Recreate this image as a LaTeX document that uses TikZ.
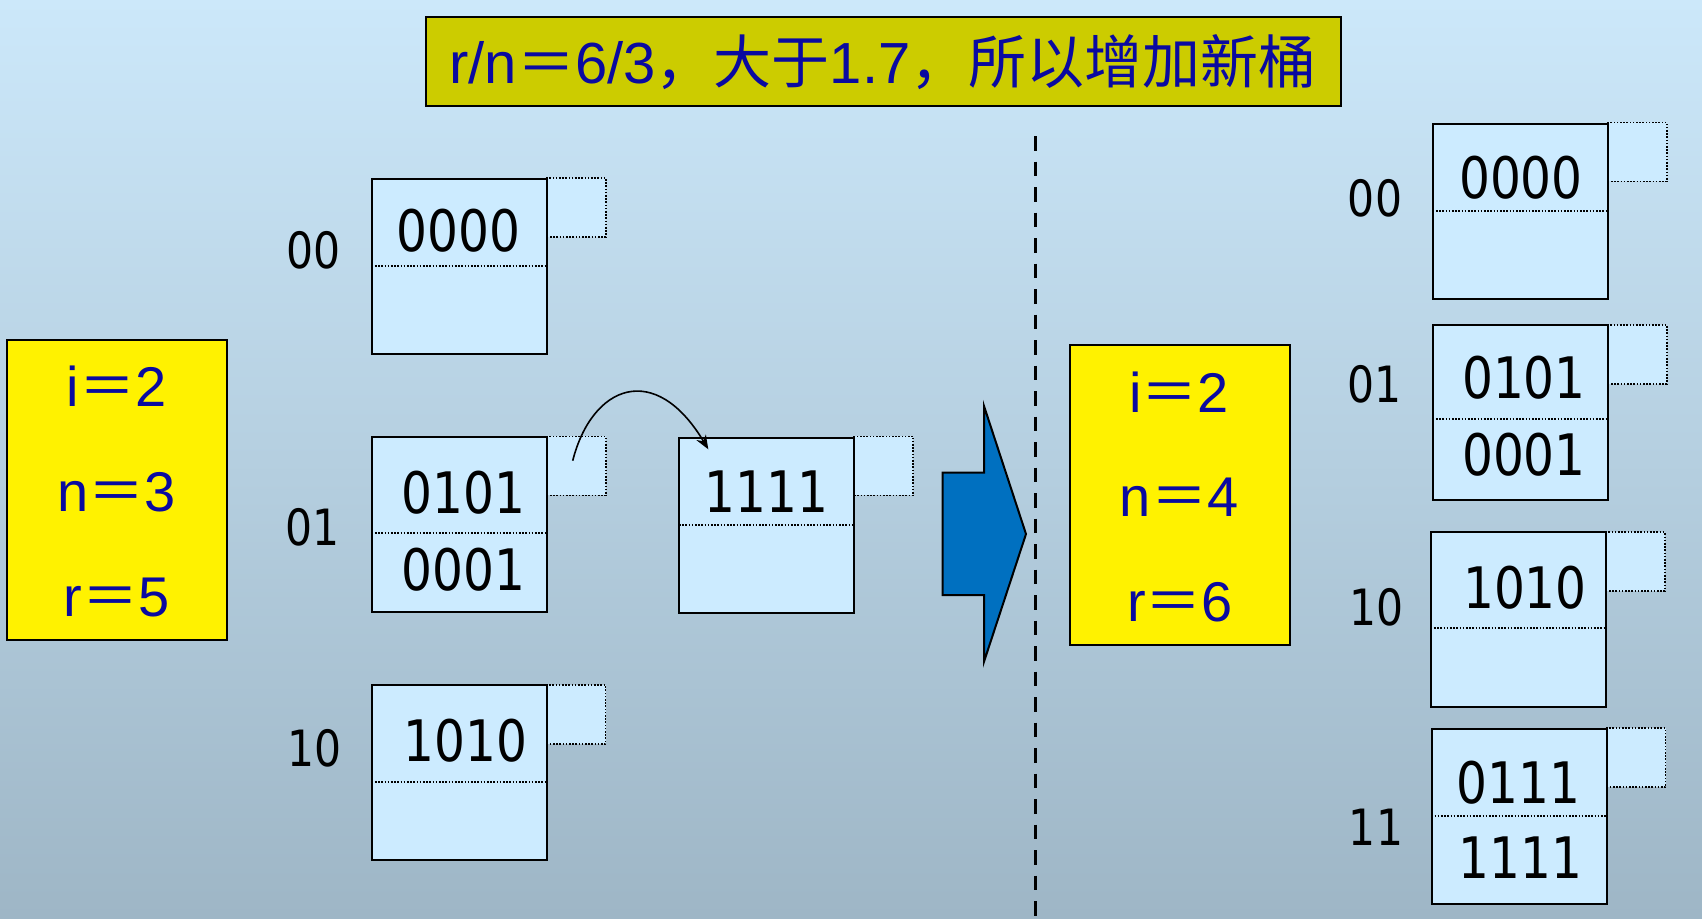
\documentclass[tikz,border=0pt]{standalone}
\usepackage{fontspec}
\setmainfont{Liberation Sans}
\newfontfamily\cjk{Noto Sans CJK SC}
\newfontfamily\digitfont[FakeStretch=0.85]{DejaVu Sans}
\usetikzlibrary{arrows.meta}
\definecolor{bgtop}{RGB}{204,232,250}
\definecolor{bgbot}{RGB}{158,182,198}
\definecolor{boxblue}{RGB}{204,235,255}
\definecolor{titlefill}{RGB}{204,204,0}
\definecolor{txtblue}{RGB}{10,10,160}
\definecolor{arrowblue}{RGB}{0,112,192}
\tikzset{
  bucket/.style={draw=black, fill=boxblue, line width=1pt, minimum width=87.5pt, minimum height=87.5pt, inner sep=0pt},
  sidebox/.style={draw=black, fill=boxblue, line width=0.9pt, dash pattern=on 0.8pt off 0.8pt, minimum width=29.5pt, minimum height=29.5pt, inner sep=0pt},
  divline/.style={draw=black, line width=0.9pt, dash pattern=on 0.8pt off 0.8pt},
  digits/.style={inner sep=0pt, anchor=base, font=\digitfont\fontsize{28.6pt}{34pt}\selectfont},
  lbl/.style={inner sep=0pt, anchor=base, font=\digitfont\fontsize{25pt}{30pt}\selectfont},
  ybox/.style={draw=black, fill=yellow, line width=1pt, minimum width=110pt, minimum height=150pt, inner sep=0pt},
  ytext/.style={inner sep=0pt, anchor=base, text=txtblue, font=\fontsize{28pt}{34pt}\selectfont},
  ptr/.style={line width=0.8pt, -{Stealth[length=7pt,width=5.5pt]}}
}
\begin{document}
\begin{tikzpicture}[x=0.5pt,y=-0.5pt]
\useasboundingbox (0,0) rectangle (1702,918);
\shade[top color=bgtop, bottom color=bgbot] (0,0) rectangle (1702,918);

% title
\node[draw=black, fill=titlefill, line width=1pt, minimum width=457.9pt, minimum height=44.65pt, inner sep=0pt] (titlebox) at (883.4,61.35) {};
\node[inner sep=0pt, anchor=base, text=txtblue, font=\fontsize{29pt}{35pt}\selectfont] (title) at (883,83.3) {r/n{\cjk ＝}6/3{\cjk ，大于}1.7{\cjk ，所以增加新桶}};

% left state box
\node[ybox] (lstate) at (116.7,489.7) {};
\node[ytext] (li) at (116.7,406.7) {i{\cjk ＝}2};
\node[ytext] (ln) at (116.7,511.7) {n{\cjk ＝}3};
\node[ytext] (lr) at (116.7,616.7) {r{\cjk ＝}5};

% left buckets
\node[lbl] (l00) at (313.7,268) {00};
\node[lbl] (l01) at (313,545) {01};
\node[lbl] (l10) at (315,766) {10};

\node[sidebox] (L00s) at (576.2,207.2) {};
\node[bucket] (L00) at (459.2,266.2) {};
\draw[divline] (371.7,266) -- (546.7,266);
\node[digits] (t0000a) at (458.3,251.7) {0000};

\node[sidebox] (L01s) at (576.2,465.9) {};
\node[bucket] (L01) at (459.2,524.4) {};
\draw[divline] (371.7,533) -- (546.7,533);
\node[digits] (t0101a) at (463.5,513.5) {0101};
\node[digits] (t0001a) at (463.5,590) {0001};

\node[sidebox] (L10s) at (576,714.5) {};
\node[bucket] (L10) at (459.2,772.5) {};
\draw[divline] (371.7,782.3) -- (546.7,782.3);
\node[digits] (t1010a) at (465.7,761.7) {1010};

\node[sidebox] (B11s) at (883.7,465.9) {};
\node[bucket] (B11) at (766.5,525.2) {};
\draw[divline] (679,525) -- (854,525);
\node[digits] (t1111a) at (766.7,512.7) {1111};

% pointer
\coordinate (pstart) at (572.7,460.7);
\coordinate (pend) at (708.3,449.3);
\draw[ptr] (pstart) .. controls (592,385) and (655,360) .. (pend);

% big arrow
\draw[fill=arrowblue, line width=1pt, line join=miter] (942.7,472.7) -- (984,472.7) -- (984,406) -- (1026,534) -- (984,661.7) -- (984,595) -- (942.7,595) -- cycle;

% dashed separator
\draw[line width=1.75pt, dash pattern=on 7.25pt off 5.5pt] (1035.7,136) -- (1035.7,918);

% right state box
\node[ybox] (rstate) at (1180,495) {};
\node[ytext] (ri) at (1179,412.7) {i{\cjk ＝}2};
\node[ytext] (rn) at (1179,516.7) {n{\cjk ＝}4};
\node[ytext] (rr) at (1180,621.7) {r{\cjk ＝}6};

% right buckets
\node[lbl] (r00) at (1375,216) {00};
\node[lbl] (r01) at (1374.5,402.7) {01};
\node[lbl] (r10) at (1376.7,625) {10};
\node[lbl] (r11) at (1376,845) {11};

\node[sidebox] (R00s) at (1637.3,151.9) {};
\node[bucket] (R00) at (1520.4,211) {};
\draw[divline] (1432.7,210.7) -- (1608,210.7);
\node[digits] (t0000b) at (1521,198.3) {0000};

\node[sidebox] (R01s) at (1637.3,354.2) {};
\node[bucket] (R01) at (1520.4,412.5) {};
\draw[divline] (1432.7,419) -- (1608,419);
\node[digits] (t0101b) at (1524,398.3) {0101};
\node[digits] (t0001b) at (1524,475) {0001};

\node[sidebox] (R10s) at (1635.3,561.7) {};
\node[bucket] (R10) at (1518.4,619.8) {};
\draw[divline] (1430.7,628.3) -- (1606,628.3);
\node[digits] (t1010b) at (1525,608.3) {1010};

\node[sidebox] (R11s) at (1636,757.8) {};
\node[bucket] (R11) at (1519,816.5) {};
\draw[divline] (1431.3,816.3) -- (1606.7,816.3);
\node[digits] (t0111b) at (1518.3,803.3) {0111};
\node[digits] (t1111b) at (1520.7,878.3) {1111};
\end{tikzpicture}
\end{document}
